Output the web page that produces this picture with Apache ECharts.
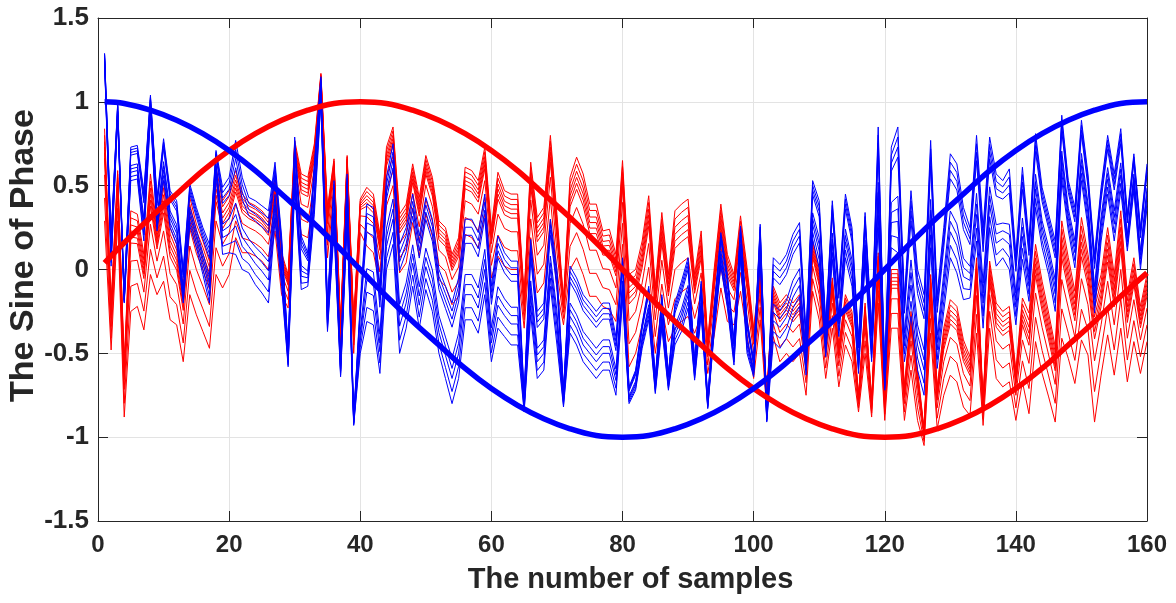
<!DOCTYPE html>
<html>
<head>
<meta charset="utf-8">
<script src="https://cdn.jsdelivr.net/npm/echarts@6/dist/echarts.min.js"></script>
<style>
  html, body { margin: 0; padding: 0; background: #fff; }
  #main { width: 1176px; height: 603px; }
</style>
</head>
<body>
<div id="main"></div>
<script>
// x ticks
var xTicks = [0, 20, 40, 60, 80, 100, 120, 140, 160];
// thick reference curves, read every 4 samples
var refX = [1, 4, 8, 12, 16, 20, 24, 28, 32, 36, 40, 44, 48, 52, 56, 60, 64, 68, 72, 76, 80,
            84, 88, 92, 96, 100, 104, 108, 112, 116, 120, 124, 128, 132, 136, 140, 144, 148, 152, 156, 160];
var redRef = [0.04, 0.16, 0.31, 0.45, 0.59, 0.71, 0.81, 0.89, 0.95, 0.99, 1.00, 0.99, 0.95, 0.89, 0.81, 0.71, 0.59, 0.45, 0.31, 0.16, 0.00,
              -0.16, -0.31, -0.45, -0.59, -0.71, -0.81, -0.89, -0.95, -0.99, -1.00, -0.99, -0.95, -0.89, -0.81, -0.71, -0.59, -0.45, -0.31, -0.16, -0.02];
var blueRef = [1.00, 0.99, 0.95, 0.89, 0.81, 0.71, 0.59, 0.45, 0.31, 0.16, 0.00, -0.16, -0.31, -0.45, -0.59, -0.71, -0.81, -0.89, -0.95, -0.99, -1.00,
               -0.99, -0.95, -0.89, -0.81, -0.71, -0.59, -0.45, -0.31, -0.16, 0.00, 0.16, 0.31, 0.45, 0.59, 0.71, 0.81, 0.89, 0.95, 0.99, 1.00];

// top line of each noisy bundle, samples 1..160
var blueNoise = [
  1.29, 0.20, 0.99, -0.15, 0.73, 0.74, 0.47, 1.04, 0.43, 0.78, 0.47, 0.41, 0.00, 0.51, 0.37, 0.25, 0.15, 0.71, 0.49, 0.55,
  0.77, 0.55, 0.43, 0.41, 0.38, 0.35, 0.64, 0.20, -0.48, 0.79, 0.20, 0.10, 0.63, 1.15, -0.22, 0.53, -0.54, 0.57, -0.88, -0.20,
  0.39, 0.37, -0.10, 0.55, 0.75, 0.15, 0.25, 0.45, 0.20, 0.43, 0.30, 0.00, -0.10, -0.20, -0.05, 0.30, 0.30, 0.22, 0.45, -0.10,
  0.20, 0.10, 0.05, 0.05, -0.75, 0.18, -0.25, -0.20, 0.30, 0.00, -0.72, 0.02, -0.05, -0.15, -0.20, -0.25, -0.20, -0.20, -0.40, 0.07,
  -0.70, -0.60, -0.32, -0.10, -0.64, -0.15, -0.62, -0.20, -0.07, 0.07, -0.54, -0.07, -0.78, -0.22, 0.22, -0.03, -0.42, 0.26, -0.30, -0.54,
  0.27, -0.86, 0.07, 0.03, 0.09, 0.21, 0.28, -0.38, 0.53, 0.41, -0.32, 0.41, -0.10, 0.45, 0.25, -0.42, 0.34, -0.35, 0.85, -0.62,
  0.73, 0.85, -0.17, 0.47, 0.00, -0.15, 0.77, -0.15, 0.25, 0.69, 0.63, 0.37, 0.25, 0.80, 0.25, 0.79, 0.57, 0.53, 0.60, 0.09,
  0.61, 0.17, 0.81, 0.49, 0.33, 0.17, 0.92, 0.53, 0.37, 0.89, 0.57, 0.09, 0.49, 0.80, 0.57, 0.84, 0.33, 0.69, 0.25, 0.63
];
var redNoise = [
  0.84, -0.20, 0.59, -0.55, 0.35, 0.33, 0.09, 0.57, 0.25, 0.53, 0.25, 0.15, -0.10, 0.43, 0.27, 0.17, 0.05, 0.61, 0.41, 0.47,
  0.59, 0.45, 0.40, 0.38, 0.35, 0.30, 0.53, 0.10, -0.03, 0.77, 0.57, 0.55, 0.75, 1.17, 0.37, 0.66, -0.32, 0.68, -0.30, 0.42,
  0.49, 0.45, 0.21, 0.73, 0.85, 0.33, 0.39, 0.63, 0.43, 0.68, 0.55, 0.29, 0.25, 0.09, 0.19, 0.61, 0.59, 0.53, 0.73, 0.25,
  0.58, 0.47, 0.45, 0.45, -0.15, 0.64, 0.31, 0.37, 0.80, 0.33, -0.18, 0.55, 0.67, 0.57, 0.39, 0.39, 0.23, 0.24, 0.09, 0.65,
  -0.03, 0.00, 0.17, 0.44, -0.10, 0.34, -0.03, 0.35, 0.39, 0.42, -0.03, 0.23, -0.42, 0.01, 0.39, 0.09, -0.03, 0.32, 0.01, -0.35,
  0.00, -0.74, -0.10, -0.20, -0.15, -0.20, -0.15, -0.45, 0.17, 0.00, -0.40, -0.05, -0.45, -0.15, -0.25, -0.75, -0.20, -0.78, 0.10, -0.75,
  0.00, 0.00, -0.70, -0.25, -0.60, -0.95, -0.03, -0.70, -0.35, -0.18, -0.22, -0.42, -0.52, 0.07, -0.78, 0.05, -0.20, -0.25, -0.22, -0.60,
  -0.17, -0.26, 0.15, -0.07, -0.26, -0.46, 0.29, 0.07, -0.13, 0.31, 0.09, -0.18, -0.03, 0.25, -0.03, 0.35, -0.15, 0.07, -0.22, -0.03
];
// height of each bundle (top line to bottom line), samples 1..160
var blueWidth = [
  0.05, 0.18, 0.08, 0.05, 0.20, 0.20, 0.30, 0.12, 0.20, 0.25, 0.22, 0.26, 0.20, 0.25, 0.24, 0.28, 0.35, 0.14, 0.40, 0.45,
  0.68, 0.55, 0.45, 0.50, 0.52, 0.55, 0.35, 0.30, 0.10, 0.30, 0.32, 0.20, 0.30, 0.15, 0.15, 0.30, 0.10, 0.30, 0.05, 0.30,
  0.70, 0.70, 0.52, 0.55, 0.60, 0.65, 0.60, 0.55, 0.55, 0.55, 0.55, 0.50, 0.55, 0.60, 0.60, 0.60, 0.60, 0.60, 0.60, 0.45,
  0.55, 0.50, 0.50, 0.50, 0.10, 0.45, 0.40, 0.40, 0.40, 0.45, 0.10, 0.40, 0.40, 0.40, 0.40, 0.40, 0.40, 0.40, 0.35, 0.25,
  0.10, 0.12, 0.15, 0.20, 0.10, 0.20, 0.10, 0.25, 0.30, 0.30, 0.12, 0.20, 0.05, 0.15, 0.20, 0.20, 0.15, 0.20, 0.20, 0.10,
  0.20, 0.05, 0.50, 0.50, 0.50, 0.50, 0.50, 0.25, 0.35, 0.40, 0.20, 0.35, 0.30, 0.38, 0.35, 0.20, 0.30, 0.20, 0.60, 0.10,
  0.60, 0.75, 0.38, 0.75, 0.60, 0.60, 0.64, 0.44, 0.50, 0.62, 0.65, 0.55, 0.42, 0.63, 0.60, 0.54, 0.55, 0.46, 0.60, 0.42,
  0.55, 0.36, 0.44, 0.36, 0.36, 0.42, 0.39, 0.30, 0.36, 0.36, 0.32, 0.35, 0.32, 0.35, 0.40, 0.37, 0.22, 0.22, 0.25, 0.26
];
var redWidth = [
  0.55, 0.28, 0.30, 0.33, 0.60, 0.55, 0.45, 0.60, 0.40, 0.60, 0.55, 0.48, 0.45, 0.58, 0.54, 0.54, 0.52, 0.64, 0.52, 0.50,
  0.40, 0.35, 0.30, 0.30, 0.30, 0.30, 0.30, 0.25, 0.20, 0.25, 0.36, 0.36, 0.30, 0.10, 0.30, 0.20, 0.20, 0.15, 0.20, 0.20,
  0.35, 0.35, 0.30, 0.35, 0.35, 0.35, 0.35, 0.35, 0.35, 0.35, 0.35, 0.35, 0.35, 0.30, 0.35, 0.40, 0.40, 0.40, 0.40, 0.30,
  0.50, 0.45, 0.45, 0.45, 0.20, 0.45, 0.45, 0.45, 0.50, 0.45, 0.15, 0.55, 0.60, 0.60, 0.55, 0.55, 0.45, 0.48, 0.40, 0.50,
  0.55, 0.50, 0.50, 0.57, 0.40, 0.57, 0.40, 0.70, 0.70, 0.70, 0.35, 0.50, 0.20, 0.40, 0.50, 0.40, 0.30, 0.45, 0.40, 0.30,
  0.30, 0.10, 0.30, 0.35, 0.35, 0.35, 0.35, 0.30, 0.30, 0.30, 0.25, 0.30, 0.25, 0.30, 0.30, 0.10, 0.30, 0.10, 0.30, 0.15,
  0.35, 0.35, 0.20, 0.35, 0.30, 0.10, 0.35, 0.25, 0.40, 0.45, 0.45, 0.40, 0.35, 0.45, 0.15, 0.40, 0.45, 0.45, 0.45, 0.30,
  0.50, 0.60, 0.58, 0.55, 0.50, 0.45, 0.70, 0.60, 0.55, 0.73, 0.60, 0.73, 0.60, 0.64, 0.60, 0.70, 0.52, 0.50, 0.40, 0.40
];
// where each thin line sits inside its bundle (0 = top, 1 = bottom)
var blueFrac = [0, 0.08, 0.16, 0.24, 0.55, 0.65, 0.75, 0.88, 1.0];
var redFrac = [0, 0.07, 0.14, 0.2, 0.26, 0.32, 0.5, 0.75, 1.0];

var FONT = 'Liberation Sans, Arial, sans-serif';
var TXT = '#262626';

function bundle(top, width, frac, color) {
    return frac.map(function (f) {
        var d = top.map(function (v, i) {
            return [i + 1, +(v - f * width[i]).toFixed(3)];
        });
        return {
            type: 'line', data: d, showSymbol: false, symbol: 'none',
            lineStyle: { color: color, width: 1 }, z: 2, silent: true
        };
    });
}
function pairs(xs, ys) {
    return xs.map(function (x, i) { return [x, ys[i]]; });
}

var series = [].concat(
    bundle(redNoise, redWidth, redFrac, '#ff0000'),
    bundle(blueNoise, blueWidth, blueFrac, '#0000ff'),
    [{
        type: 'line', data: pairs(refX, redRef), smooth: 0.4, showSymbol: false, symbol: 'none',
        lineStyle: { color: '#ff0000', width: 5.5 }, z: 3
    }, {
        type: 'line', data: pairs(refX, blueRef), smooth: 0.4, showSymbol: false, symbol: 'none',
        lineStyle: { color: '#0000ff', width: 5.5 }, z: 4
    }]
);

var myChart = echarts.init(document.getElementById('main'));
var option = {
    animation: false,
    backgroundColor: '#fff',
    grid: { left: 98, right: 29, top: 18, bottom: 82, containLabel: false, outerBoundsMode: 'none' },
    xAxis: [{
        type: 'value', min: 0, max: 160, interval: 20,
        name: 'The number of samples', nameLocation: 'middle', nameGap: 44, nameMoveOverlap: false,
        nameTextStyle: { fontFamily: FONT, fontWeight: 'bold', fontSize: 29, color: TXT, padding: [0, 0, 0, 16] },
        axisLine: { show: true, onZero: false, lineStyle: { color: TXT, width: 1 } },
        axisTick: { show: true, inside: true, length: 10, lineStyle: { color: TXT } },
        axisLabel: { margin: 12, fontFamily: FONT, fontWeight: 'bold', fontSize: 24, color: TXT,
            formatter: function (v) { return xTicks.indexOf(v) >= 0 ? String(v) : ''; } },
        splitLine: { show: true, lineStyle: { color: '#e3e3e3', width: 1 } }
    }, {
        type: 'value', min: 0, max: 160, interval: 20, position: 'top',
        axisLine: { show: true, onZero: false, lineStyle: { color: TXT, width: 1 } },
        axisTick: { show: true, inside: true, length: 10, lineStyle: { color: TXT } },
        axisLabel: { show: false }, splitLine: { show: false }
    }],
    yAxis: [{
        type: 'value', min: -1.5, max: 1.5, interval: 0.5,
        name: 'The Sine of Phase', nameLocation: 'middle', nameGap: 57, nameMoveOverlap: false,
        nameTextStyle: { fontFamily: FONT, fontWeight: 'bold', fontSize: 34, color: TXT, padding: [0, 0, 0, 28] },
        axisLine: { show: true, onZero: false, lineStyle: { color: TXT, width: 1 } },
        axisTick: { show: true, inside: true, length: 10, lineStyle: { color: TXT } },
        axisLabel: { margin: 9, fontFamily: FONT, fontWeight: 'bold', fontSize: 26, color: TXT },
        splitLine: { show: true, lineStyle: { color: '#e3e3e3', width: 1 } }
    }, {
        type: 'value', min: -1.5, max: 1.5, interval: 0.5, position: 'right',
        axisLine: { show: true, onZero: false, lineStyle: { color: TXT, width: 1 } },
        axisTick: { show: true, inside: true, length: 10, lineStyle: { color: TXT } },
        axisLabel: { show: false }, splitLine: { show: false }
    }],
    series: series
};
myChart.setOption(option, true);
</script>
</body>
</html>
